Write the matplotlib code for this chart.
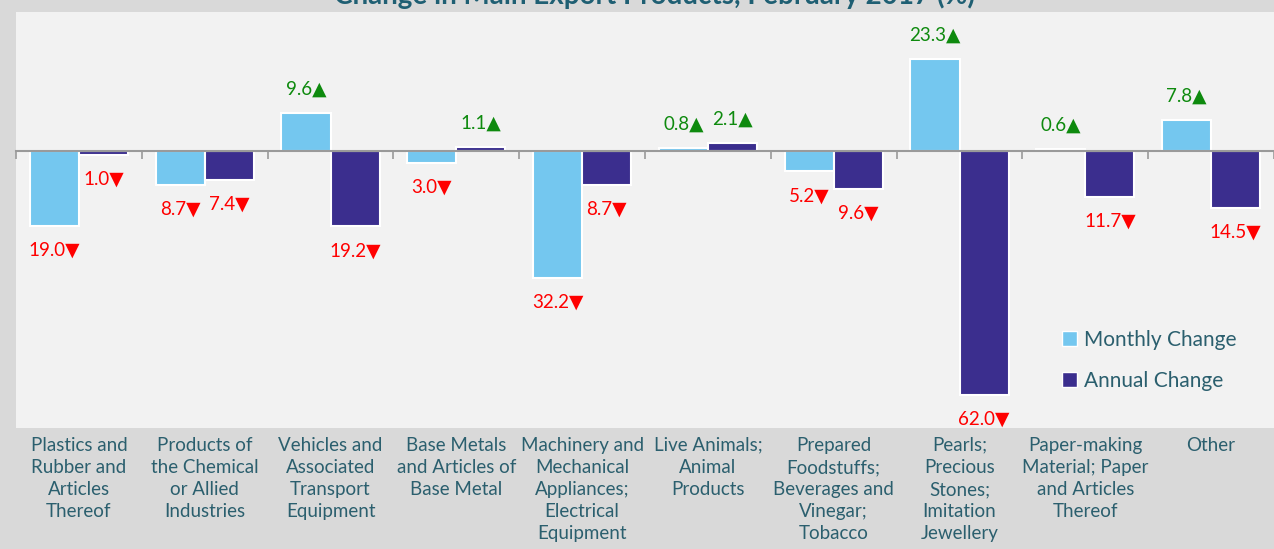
import numpy as np
import matplotlib.pyplot as plt
from matplotlib.patches import Patch
import matplotlib.transforms as mtransforms

plt.rcParams['font.family'] = ['Lato', 'DejaVu Sans']

categories = ['Plastics and\nRubber and\nArticles\nThereof',
              'Products of\nthe Chemical\nor Allied\nIndustries',
              'Vehicles and\nAssociated\nTransport\nEquipment',
              'Base Metals\nand Articles of\nBase Metal',
              'Machinery and\nMechanical\nAppliances;\nElectrical\nEquipment',
              'Live Animals;\nAnimal\nProducts',
              'Prepared\nFoodstuffs;\nBeverages and\nVinegar;\nTobacco',
              'Pearls;\nPrecious\nStones;\nImitation\nJewellery',
              'Paper-making\nMaterial; Paper\nand Articles\nThereof',
              'Other']
monthly = [-19.0, -8.7, 9.6, -3.0, -32.2, 0.8, -5.2, 23.3, 0.6, 7.8]
annual = [-1.0, -7.4, -19.2, 1.1, -8.7, 2.1, -9.6, -62.0, -11.7, -14.5]

c_month = '#74C7EF'
c_annual = '#3B2E8E'
teal = '#2B5F6E'

fig = plt.figure(figsize=(12.74, 5.49), dpi=100, facecolor='#d9d9d9')
ax = fig.add_axes([16/1274, 121/549, 1258/1274, 416/549])
ax.set_facecolor('#f2f2f2')

x = np.arange(len(categories))
w = 0.39
b1 = ax.bar(x - 0.195, monthly, w, color=c_month, edgecolor='white', linewidth=1.5, zorder=3)
b2 = ax.bar(x + 0.195, annual, w, color=c_annual, edgecolor='white', linewidth=1.5, zorder=3)

# value labels with up/down arrows
for bars, vals in [(b1, monthly), (b2, annual)]:
    for b, v in zip(bars, vals):
        xc = b.get_x() + b.get_width() / 2
        if v >= 0:
            txt, col, off = f'{abs(v):.1f}\u25B2', '#0E8A0E', 17
        else:
            txt, col, off = f'{abs(v):.1f}\u25BC', '#FF0000', -17.5
        ax.annotate(txt, (xc, v), xytext=(0, off), textcoords='offset points',
                    ha='center', va='center', color=col, fontsize=13.5)

ax.set_xlim(-0.5, len(categories) - 0.5)
ax.set_ylim(-70.4, 35.3)
for s in ['top', 'right', 'left']:
    ax.spines[s].set_visible(False)
ax.spines['bottom'].set_position(('data', 0))
ax.spines['bottom'].set_color('#9a9a9a')
ax.spines['bottom'].set_linewidth(1.5)
ax.spines['bottom'].set_zorder(4)
ax.set_xticks(np.arange(len(categories) + 1) - 0.5)
ax.tick_params(axis='x', direction='out', length=6, width=1.2, color='#9a9a9a', labelbottom=False)
ax.set_yticks([])

trans = mtransforms.blended_transform_factory(ax.transData, ax.transAxes)
for i, c in enumerate(categories):
    ax.text(i, -0.021, c, transform=trans, ha='center', va='top', color=teal,
            fontsize=13.5, linespacing=1.37)

handles = [Patch(facecolor=c_month, edgecolor='white', label='Monthly Change'),
           Patch(facecolor=c_annual, edgecolor='white', label='Annual Change')]
leg = ax.legend(handles=handles, loc='lower right', bbox_to_anchor=(0.985, 0.045),
                frameon=False, fontsize=15, handlelength=0.7, handleheight=0.7,
                handletextpad=0.35, labelspacing=1.0)
for t in leg.get_texts():
    t.set_color(teal)

fig.text(655/1274, 1 - 4/549, 'Change in Main Export Products, February 2017 (%)',
         ha='center', va='baseline', color='#1F5F73', fontsize=20, fontweight='bold')

fig.savefig('out.png', dpi=100, facecolor=fig.get_facecolor())
